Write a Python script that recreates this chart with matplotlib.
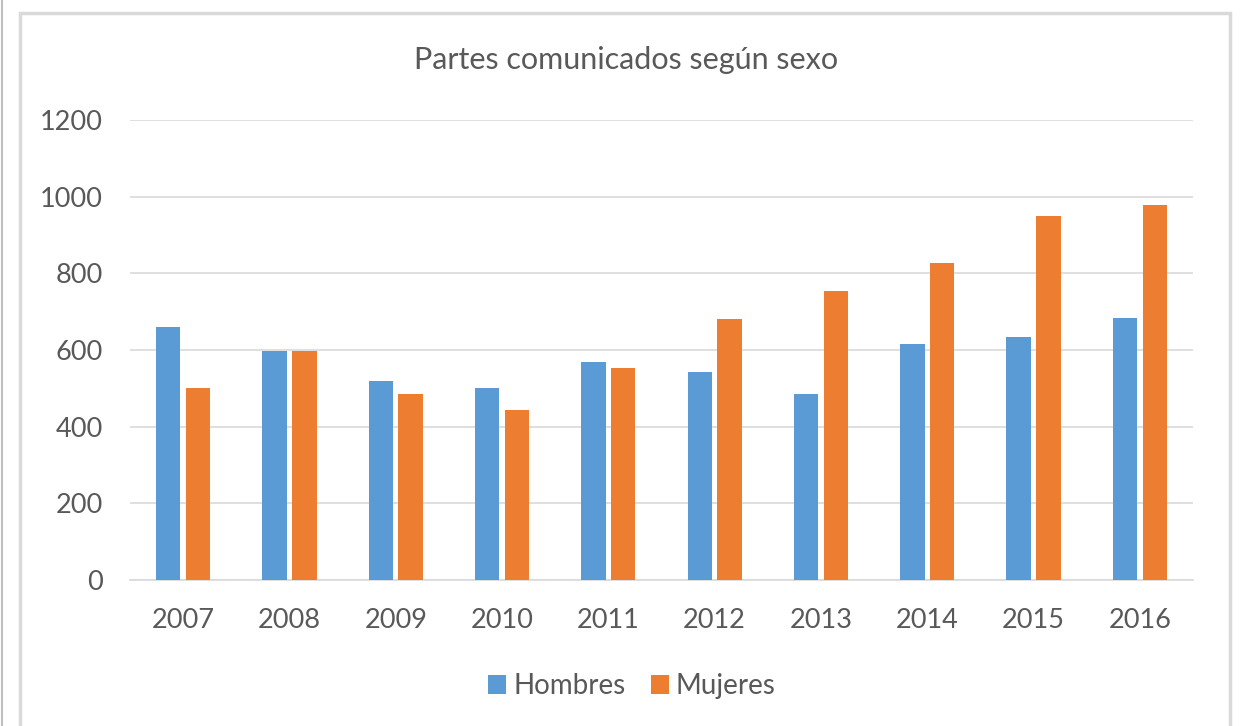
import numpy as np
import matplotlib
matplotlib.use("Agg")
import matplotlib.pyplot as plt
from matplotlib.patches import Rectangle
from matplotlib.lines import Line2D

plt.rcParams['font.family'] = ['Lato', 'DejaVu Sans']

years = ['2007', '2008', '2009', '2010', '2011', '2012', '2013', '2014', '2015', '2016']
hombres = [660, 598, 519, 501, 569, 543, 485, 616, 634, 684]
mujeres = [501, 598, 485, 443, 553, 681, 753, 827, 950, 978]

blue = '#5B9BD5'
orange = '#ED7D31'
text_col = '#595959'
grid_col = '#D9D9D9'

W, H = 1240, 726
fig = plt.figure(figsize=(W / 100, H / 100), dpi=100)

# outer frame of the chart
fig.add_artist(Rectangle((20 / W, -0.05), 1210 / W, 1.05 - 13 / H, transform=fig.transFigure,
                         fill=False, edgecolor=grid_col, linewidth=2.5))
fig.add_artist(Line2D([2 / W, 2 / W], [0, 1], transform=fig.transFigure,
                      color='#BFBFBF', linewidth=1.5))

ax = fig.add_axes([130 / W, 1 - 580 / H, (1193 - 130) / W, (580 - 120) / H])

x = np.arange(len(years))
bw = 0.23
off = 0.14
ax.bar(x - off, hombres, bw, color=blue, label='Hombres', zorder=3)
ax.bar(x + off, mujeres, bw, color=orange, label='Mujeres', zorder=3)

ax.set_xlim(-0.5, len(years) - 0.5)
ax.set_ylim(0, 1200)
ax.set_yticks(range(0, 1201, 200))
ax.set_xticks(x)
ax.set_xticklabels(years)
ax.grid(axis='y', color=grid_col, linewidth=1.2, zorder=0)
for s in ['top', 'right', 'left']:
    ax.spines[s].set_visible(False)
ax.spines['bottom'].set_color(grid_col)
ax.spines['bottom'].set_linewidth(1.2)
ax.tick_params(length=0, labelsize=19.5, colors=text_col)
ax.tick_params(axis='y', pad=19.5)
ax.tick_params(axis='x', pad=20)

fig.text(626 / W, 1 - 60 / H, 'Partes comunicados según sexo', ha='center', va='center',
         fontsize=22, color=text_col)

leg = fig.legend(loc='center', bbox_to_anchor=(632 / W, 1 - 686 / H), ncol=2, frameon=False,
                 fontsize=20, handlelength=0.65, handleheight=0.65, handletextpad=0.25,
                 columnspacing=0.9)
for t in leg.get_texts():
    t.set_color(text_col)

fig.savefig('out.png', dpi=100)
